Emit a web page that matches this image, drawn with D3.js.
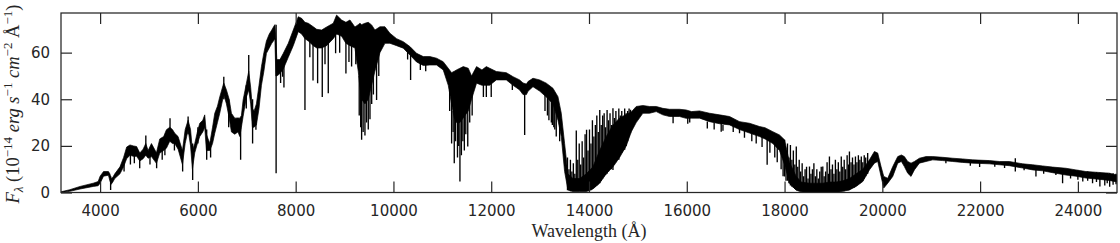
<!DOCTYPE html>
<html>
<head>
<meta charset="utf-8">
<script src="https://cdn.jsdelivr.net/npm/d3@7"></script>
<style>
  body { margin: 0; background: #fff; }
  svg { display: block; }
  .tick text { font-family: "DejaVu Sans", sans-serif; font-size: 15px; fill: #262626; }
  .tick line { stroke: #262626; stroke-width: 1.2; }
</style>
</head>
<body>
<div id="chart"></div>
<script>
// spectrum: dense upper / lower edge of the trace
var wavelength = [3200,3380,3590,3860,3960,4000,4070,4170,4200,4227,4260,4300,4406,4480,4543,4611,4680,4747,4812,4880,
  4934,4982,5050,5152,5220,5300,5356,5425,5480,5527,5595,5684,5740,5800,5850,5888,5936,5990,6038,6100,
  6140,6174,6243,6300,6345,6400,6447,6529,6584,6640,6686,6754,6820,6857,6890,6925,6993,7040,7080,7115,
  7150,7197,7250,7300,7350,7402,7460,7511,7545,7575,7595,7615,7678,7747,7849,7951,8053,8122,8190,8258,
  8360,8430,8531,8633,8769,8837,8940,9028,9110,9212,9280,9315,9349,9417,9485,9553,9621,9724,9826,9928,
  10064,10201,10337,10473,10610,10746,10882,11018,11121,11189,11244,11291,11360,11428,11530,11598,11700,11810,11900,11968,
  12105,12309,12445,12581,12650,12720,12752,12854,12990,13127,13263,13365,13433,13501,13569,13672,13808,13944,14080,14217,
  14353,14490,14625,14762,14864,14966,15102,15239,15375,15511,15647,15852,15988,16097,16261,16466,16670,16875,17079,17283,
  17488,17600,17760,17896,17999,18101,18237,18340,18510,18646,18782,18918,19054,19191,19327,19463,19600,19736,19838,19906,
  19974,20029,20111,20213,20315,20390,20451,20519,20587,20656,20758,20894,21030,21235,21439,21643,21848,22188,22393,22597,
  22870,23074,23279,23483,23755,23960,24164,24368,24641,24800];

var fluxHigh = [0.3,1.2,2.6,4.0,4.7,7.0,9.0,9.0,8.0,6.0,6.5,8.0,11,15,19.5,20.4,20,19.7,16.9,18.6,
  21,18,21,17,23,24,26.9,28,27,25.4,24,18,27,31,27,18,21,26,29.7,31,
  33.3,25,21,28,34,37,41,47,44,40,34,31.9,32,31.9,33,39.7,46.9,52,45,36,
  35,38,46,54,60,65,68,69.7,71,72,66,57,57,59.7,64,69.7,75.4,74.7,73,72.6,
  71.1,70,69.7,71,72.6,76.1,74,73,74,71,72,72.6,72,72.6,73,71.9,69.7,71.1,71.1,68.3,
  66,64.7,62.6,59.7,58.3,58.3,57.6,56.1,53.3,51.4,52,52.6,53.3,54,53.3,50,54,52.6,54,53.3,
  51.9,51.4,49.7,48.3,47,46.5,47.6,49,48.3,46.9,44.7,41.1,34,21,8,6,6,8,11,18,
  24,29,32,33.5,34.5,36.9,37.3,36.9,36.9,36.1,35.7,35.7,35.4,34.7,35,34,33.3,32.6,30.4,29.7,
  28.3,27.8,26.1,24.7,22.6,13,7,4.5,4,4,4,4.5,4.5,5,6,8,10,14,17.6,16.9,
  11.1,6.9,6.1,11.1,15.4,16.1,15.4,13.3,12.6,13.3,14.7,15.4,15.4,15.1,14.7,14.4,14,13.7,13.3,13.3,
  12.3,11.9,11.4,10.9,10.4,9.7,9,8.7,8.3,7.5];

var fluxLow = [0,0.5,1.5,2.6,2.9,4.0,7.0,7.4,5.0,3.5,4.5,6.0,8,11,14.5,16,15.5,15.5,13.5,14.5,
  16,14.7,15.4,12.5,16.9,18,19,22,21,21,18.6,12,21,26.9,20,10,17,21,24,26,
  28,18,18,21,25.4,30,34,42,38,32,26,25,26,24,28,32.6,41,44,38,28,
  28,29,36,46,52,59.7,62,64,65,66,50,50,51,53,58,63,69,68,66,65,
  63,62,62,63,66,68,67,64,63,62,52,45,40,38,40,46,52,60,64,64,
  63,61.9,59,56,54.5,54.7,54.7,52.6,46,38,32,30,30,32,35,40,46.9,46,46,46,
  48.3,48.3,46,44,42,42,43.4,45.4,43.5,41,38,31,24,9,1.1,0.4,0.4,0.4,1.5,4,
  8,11,15,20,26,30,34,34,34.7,33.3,32.6,32.6,31.8,31.9,31.9,30.4,29.5,29,27,25.5,
  24,23,21,18,12,4,1,0.3,0,0,0,0,0,0.5,1.1,2.6,4.7,9.7,12.6,13.3,
  6.9,1.9,4,6.9,12.6,13.3,11.1,8.3,6.9,9.7,12.6,13.3,14,13.7,13.3,12.9,12.6,12.3,11.9,11.5,
  10.5,9.7,9.3,8.5,7.5,7,6.2,5.8,5.2,4.5];

// single narrow lines and noise stripes: position, upper end, lower end
var lineWave = [4215,4490,4620,4700,4810,4935,5020,5156,5270,5325,5430,5520,5688,5800,5893,6000,6180,6260,6530,6630,
  6874,6990,7040,7119,7187,7600,7692,7733,7760,8190,8290,8355,8449,8544,8600,8667,8817,8900,9028,9090,
  9144,9230,9300,9330,9349,9380,9417,9450,9485,9520,9555,9590,9655,9700,10290,10351,10550,10660,11150,11190,
  11220,11244,11270,11310,11335,11360,11390,11420,11450,11480,11520,11560,11610,11840,11900,12000,12432,12684,13100,13150,
  13180,13230,13250,13280,13300,13330,13400,
  13560,13590,13620,13650,13680,13710,13740,13770,13800,13830,13860,13890,13920,13950,13980,14010,14040,14070,14100,14130,
  14160,14190,14220,14250,14280,14310,14340,14370,14400,14430,14460,14490,14520,14550,14580,14610,14640,14670,14700,14730,
  14760,14790,14820,14850,
  15720,16020,16060,16420,16560,16704,16740,16950,17079,17180,17330,17420,17540,17644,17700,17800,17850,17930,17970,
  18000,18030,18060,18090,18120,18150,18180,18210,18240,18270,18300,18330,18360,18390,18420,18450,18480,18510,18540,18570,
  18600,18630,18660,18690,18720,18750,18782,18810,18840,18870,18900,18918,18950,18980,19010,19040,19070,19100,19130,19160,
  19190,19220,19250,19280,19310,19327,19360,19390,19420,19450,19480,19510,19540,19570,19600,19630,19660,19700,
  21300,21800,21990,22300,22500,22720,22900,23142,23300,23550,23687,23850,24000,24100,24200,24300,24380,24450,24550,24600,
  24650,24720,24780];

var lineTop = [7,13,17,18,15,24.4,18,16,22,24,31.9,24,18,32.6,21,28,27,22,49.7,40,
  30,46,59,40,36,72,56,58,58,70,70,69,68,68,69,69,70,71,70,70,
  70,68,50,45,45,45,45,45,45,45,50,55,60,64,62,60,57,56,46,40,
  35,35,35,35,35,35,35,35,35,38,40,42,46,51,51,50,47,44,44,44,
  42,42,41,40,39,38,33,
  15,10,14,9,12.6,8,26.6,14,21,12,22,15,25,26.9,18,27,21,31,24,29,
  33,26,35.4,29,33,34,28,35.4,31,34,29,36.1,32,35,30,36,33,35,31,36,
  34,35,36,35.5,
  35,32,32,30.5,30,33,29,29,30.4,27,26,25,24,25,24,22,21,18,16,
  22.6,18,21,15,20.4,14,18,12,19.7,11,14,9,12.6,7,10,11,6,11.1,8,10,
  12.6,7,10,6,9,11,11.1,7,9,13,8,15.4,10,12,8,14,10,13,9,15.4,
  11,14,10,16,12,17.6,13,15,12,15.4,13,16,14,15.4,13,16,15,16.9,
  14,13.5,13,13,13,14.7,12,10,11,10.5,9,10,9.5,9,9,8.7,8.7,8.5,8.3,8.4,
  8.3,8.3,8];

var lineBottom = [1.1,9,12,12.6,10.4,16,12,10.4,14,16,22,18,9,25,5.4,21,14,15,40,28,
  14,36,44,21,26.9,8.3,47,49.7,45,35.4,58,48,46.9,41,55,42.6,59.7,60,51.1,56,
  54,55,33,28,22.6,26,24.5,30,27,31.4,38,42,39.7,50,57,48.3,52.6,52,35,21,
  26,12.6,22,15,20,4.7,16,22,18,25,19.7,30,33,41,41,41,44,24.7,35,33,
  31,30,29,28,27,24,22,
  1,1,0.5,0.5,0.5,0.5,0.5,0.5,0.5,0.5,0.5,0.5,0.5,0.5,0.5,1,1,1.5,2,2.5,
  3,3.5,4,5,6,7,7.5,8,9,10,10,9.6,12,13,14,14,16,17,18,18.3,
  20,22,24,25.4,
  29.7,29.5,30,27.5,27,26.1,26.5,26,25.4,23.5,22,21,19.5,11.9,17,15,13,10,7,
  6.9,5,5,4,3,2.5,2,1.5,1.1,1,0.5,0.5,0.3,0.3,0.3,0,0,0,0,0,
  0,0,0,0,0,0,0,0,0,0,0,0,0,0,0,0,0,0.3,0.3,0.5,
  0.5,0.5,1,1,1,1.1,1.5,2,2,2.6,3,3.5,4,4.5,5,6,7,8,
  12.5,11.5,10.9,11,10.5,9,9.5,6.9,8,7.5,4,6,5.5,4.7,5,4,4.5,2.6,3,4,
  2.5,3.3,3.5];

var xTicks = [4000,6000,8000,10000,12000,14000,16000,18000,20000,22000,24000];
var yTicks = [0,20,40,60];

var width = 1120, height = 243;
var margin = {left: 61, right: 3, top: 13, bottom: 50.5};
var w = width - margin.left - margin.right, h = height - margin.top - margin.bottom;

var svg = d3.select('#chart').append('svg').attr('width', width).attr('height', height);
var g = svg.append('g').attr('transform', 'translate(' + margin.left + ',' + margin.top + ')');

var x = d3.scaleLinear().domain([3200, 24800]).range([0, w]);
var y = d3.scaleLinear().domain([0, 77]).range([h, 0]);

g.append('clipPath').attr('id', 'clip').append('rect').attr('width', w).attr('height', h);
var plot = g.append('g').attr('clip-path', 'url(#clip)');

var band = d3.area()
  .x(function(i) { return x(wavelength[i]); })
  .y0(function(i) { return y(fluxLow[i]); })
  .y1(function(i) { return y(fluxHigh[i]); });

plot.append('path')
  .datum(d3.range(wavelength.length))
  .attr('d', band)
  .attr('fill', '#000')
  .attr('stroke', '#000')
  .attr('stroke-width', 0.7)
  .attr('stroke-linejoin', 'round');

plot.selectAll('.spike')
  .data(d3.range(lineWave.length))
  .enter().append('line')
  .attr('class', 'spike')
  .attr('x1', function(i) { return x(lineWave[i]); })
  .attr('x2', function(i) { return x(lineWave[i]); })
  .attr('y1', function(i) { return y(lineTop[i]); })
  .attr('y2', function(i) { return y(lineBottom[i]); })
  .attr('stroke', '#000')
  .attr('stroke-width', 1.35);

// ticks point inwards on all four sides
var ax = function(sel) { sel.select('.domain').remove(); };
g.append('g').attr('transform', 'translate(0,' + h + ')')
  .call(d3.axisBottom(x).tickValues(xTicks).tickSize(-11).tickPadding(13).tickFormat(d3.format('d'))).call(ax);
g.append('g')
  .call(d3.axisTop(x).tickValues(xTicks).tickSize(-11).tickFormat('')).call(ax);
g.append('g')
  .call(d3.axisLeft(y).tickValues(yTicks).tickSize(-11).tickPadding(11)).call(ax);
g.append('g').attr('transform', 'translate(' + w + ',0)')
  .call(d3.axisRight(y).tickValues(yTicks).tickSize(-11).tickFormat('')).call(ax);

g.append('rect').attr('width', w).attr('height', h)
  .attr('fill', 'none').attr('stroke', '#262626').attr('stroke-width', 1.25);

// axis labels
svg.append('text')
  .attr('x', margin.left + w / 2).attr('y', 237)
  .attr('text-anchor', 'middle')
  .style('font-family', '"Liberation Serif", serif').style('font-size', '18px').style('fill', '#262626')
  .text('Wavelength (Å)');

var yl = svg.append('text')
  .attr('transform', 'translate(19,104) rotate(-90)')
  .attr('text-anchor', 'middle')
  .style('font-family', '"Liberation Serif", serif').style('fill', '#262626');
var parts = [
  ['F', 'i', 0, 18.5], ['λ', 'i', 4, 13], [' (10', 'r', -4, 18.5], ['−14', 'r', -7, 13], [' erg', 'i', 7, 18.5], [' s', 'i', 0, 18.5],
  ['−1', 'r', -7, 13], [' cm', 'i', 7, 18.5], ['−2', 'r', -7, 13], [' Å', 'r', 7, 18.5], ['−1', 'r', -7, 13], [')', 'r', 7, 18.5]
];
parts.forEach(function(p) {
  yl.append('tspan')
    .attr('dy', p[2])
    .style('font-style', p[1] === 'i' ? 'italic' : 'normal')
    .style('font-size', p[3] + 'px')
    .text(p[0]);
});
</script>
</body>
</html>
